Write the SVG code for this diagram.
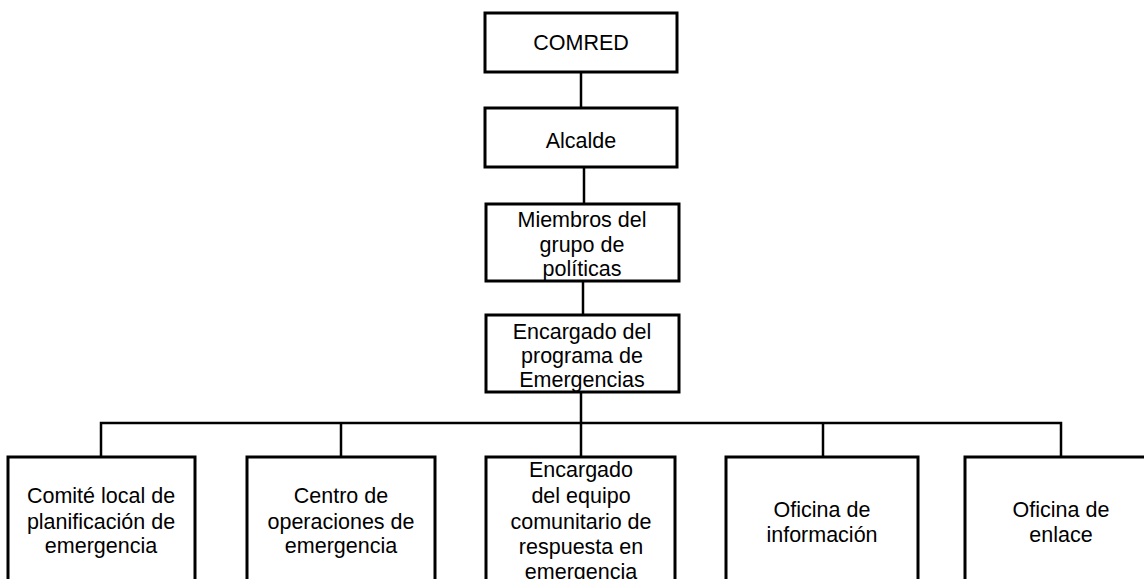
<svg xmlns="http://www.w3.org/2000/svg" width="1144" height="579" viewBox="0 0 1144 579">
<style>
.box{fill:#fff;stroke:#000;stroke-width:3}
.ln{fill:none;stroke:#000;stroke-width:2.5}
text{font-family:"Liberation Sans",Arial,sans-serif;font-size:21.5px;fill:#000;text-anchor:middle}
</style>
<rect width="1144" height="579" fill="#fff"/>
<g id="connectors">
<line class="ln" x1="581" y1="72" x2="581" y2="108"/>
<line class="ln" x1="584" y1="167" x2="584" y2="204"/>
<line class="ln" x1="583" y1="281" x2="583" y2="315"/>
<line class="ln" x1="581" y1="392" x2="581" y2="457"/>
<polyline class="ln" points="101,457 101,423 1061,423 1061,457"/>
<line class="ln" x1="341" y1="423" x2="341" y2="457"/>
<line class="ln" x1="823" y1="423" x2="823" y2="457"/>
</g>
<g id="comred">
<rect class="box" x="485" y="13" width="192" height="59"/>
<text x="581" y="50">COMRED</text>
</g>
<g id="alcalde">
<rect class="box" x="485" y="108" width="192" height="59"/>
<text x="581" y="148">Alcalde</text>
</g>
<g id="miembros">
<rect class="box" x="486" y="204" width="193" height="77"/>
<text x="582" y="227">Miembros del</text>
<text x="582" y="252">grupo de</text>
<text x="582" y="276">políticas</text>
</g>
<g id="encargado-programa">
<rect class="box" x="486" y="315" width="193" height="77"/>
<text x="582" y="339">Encargado del</text>
<text x="582" y="363">programa de</text>
<text x="582" y="387">Emergencias</text>
</g>
<g id="comite">
<rect class="box" x="8" y="457" width="187" height="140"/>
<text x="101" y="503">Comité local de</text>
<text x="101" y="529">planificación de</text>
<text x="101" y="553">emergencia</text>
</g>
<g id="centro">
<rect class="box" x="247" y="457" width="188" height="140"/>
<text x="341" y="503">Centro de</text>
<text x="341" y="529">operaciones de</text>
<text x="341" y="553">emergencia</text>
</g>
<g id="encargado-equipo">
<rect class="box" x="486" y="457" width="189" height="140"/>
<text x="581" y="477">Encargado</text>
<text x="581" y="503">del equipo</text>
<text x="581" y="529">comunitario de</text>
<text x="581" y="554">respuesta en</text>
<text x="581" y="579">emergencia</text>
</g>
<g id="informacion">
<rect class="box" x="726" y="457" width="192" height="140"/>
<text x="822" y="517">Oficina de</text>
<text x="822" y="542">información</text>
</g>
<g id="enlace">
<rect class="box" x="965" y="457" width="192" height="140"/>
<text x="1061" y="517">Oficina de</text>
<text x="1061" y="542">enlace</text>
</g>
</svg>
